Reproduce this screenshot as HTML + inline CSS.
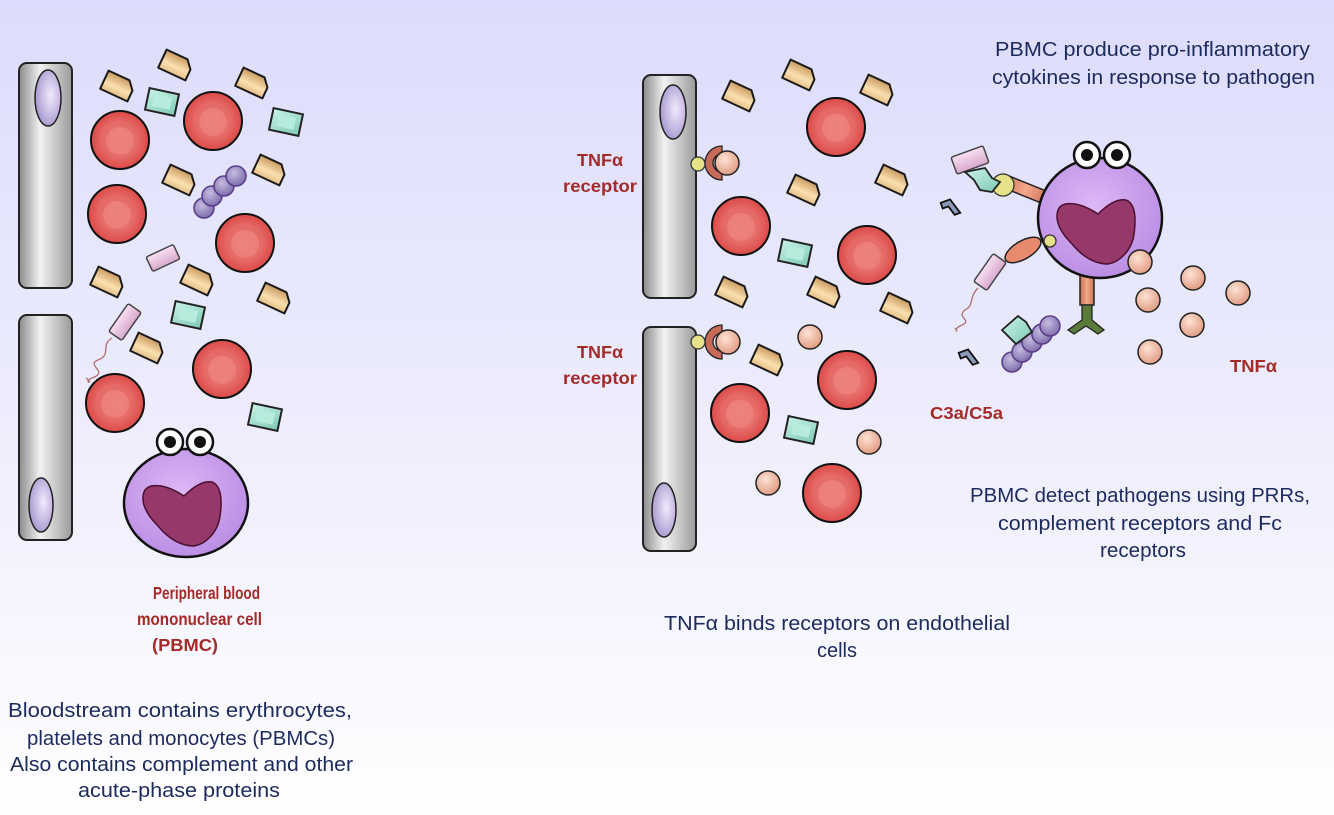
<!DOCTYPE html>
<html><head><meta charset="utf-8"><style>
html,body{margin:0;padding:0;width:1334px;height:815px;overflow:hidden}
svg{display:block}
.t{font-family:"Liberation Sans",sans-serif;fill:#1c2a5c;font-size:20px}
.r{font-family:"Liberation Sans",sans-serif;fill:#a42a28;font-size:17.5px;font-weight:bold}
</style></head><body>
<svg width="1334" height="815" viewBox="0 0 1334 815" xmlns="http://www.w3.org/2000/svg">
<defs>
<linearGradient id="bg" x1="0" y1="0" x2="0" y2="1">
<stop offset="0" stop-color="#dcdcfc"/><stop offset="0.55" stop-color="#eeeefd"/><stop offset="1" stop-color="#ffffff"/></linearGradient>
<linearGradient id="endo" x1="0" y1="0" x2="1" y2="0">
<stop offset="0" stop-color="#8a8a8a"/><stop offset="0.4" stop-color="#f2f2f2"/><stop offset="1" stop-color="#9a9a9a"/></linearGradient>
<radialGradient id="nuc" cx="0.6" cy="0.45" r="0.6"><stop offset="0" stop-color="#f2eafc"/><stop offset="1" stop-color="#a898d0"/></radialGradient>
<radialGradient id="rbc" cx="0.5" cy="0.5" r="0.5"><stop offset="0" stop-color="#f39a94"/><stop offset="1" stop-color="#dc4a48"/></radialGradient>
<linearGradient id="plt" x1="0" y1="0" x2="0" y2="1"><stop offset="0" stop-color="#c99a60"/><stop offset="0.6" stop-color="#fbe0b0"/><stop offset="1" stop-color="#e5be86"/></linearGradient>
<linearGradient id="grn" x1="0" y1="0" x2="1" y2="1"><stop offset="0" stop-color="#c8f3e8"/><stop offset="1" stop-color="#7fc8b4"/></linearGradient>
<radialGradient id="pch" cx="0.4" cy="0.35" r="0.7"><stop offset="0" stop-color="#fde2d4"/><stop offset="1" stop-color="#e0987e"/></radialGradient>
<radialGradient id="pbmc" cx="0.45" cy="0.4" r="0.6"><stop offset="0" stop-color="#ddb8f6"/><stop offset="1" stop-color="#bb8ee4"/></radialGradient>
<radialGradient id="pur" cx="0.4" cy="0.35" r="0.7"><stop offset="0" stop-color="#c6bce0"/><stop offset="1" stop-color="#7a6aa8"/></radialGradient>
<linearGradient id="pnk" x1="0" y1="0" x2="0" y2="1"><stop offset="0" stop-color="#f8e0f2"/><stop offset="1" stop-color="#d8a8cc"/></linearGradient>
<linearGradient id="org" x1="0" y1="0" x2="1" y2="0"><stop offset="0" stop-color="#c87058"/><stop offset="0.5" stop-color="#f5a88c"/><stop offset="1" stop-color="#c87058"/></linearGradient>
<g id="rbcS"><circle r="29" fill="url(#rbc)" stroke="#111" stroke-width="2"/><circle r="18" cx="-2" cy="-2" fill="#e66a66" opacity="0.7"/><circle r="14" cx="0" cy="1" fill="#f08a84" opacity="0.6"/></g>
<g id="pltS"><path d="M-15,-10 L8,-10 L15,-2 L15,10 L-15,10 Z" fill="url(#plt)" stroke="#1a1a1a" stroke-width="2" stroke-linejoin="round"/></g>
<g id="grnS"><rect x="-15" y="-11" width="30" height="22" fill="url(#grn)" stroke="#222" stroke-width="2"/><rect x="-9" y="-6" width="18" height="12" fill="#b5ecdc"/></g>
<g id="pchS"><circle r="12" fill="url(#pch)" stroke="#222" stroke-width="1.5"/></g>
<g id="purS"><circle r="10" fill="url(#pur)" stroke="#5a3a8a" stroke-width="1.5"/></g>
<g id="eyes"><circle cx="-15" cy="0" r="13" fill="#fff" stroke="#111" stroke-width="2.5"/><circle cx="15" cy="0" r="13" fill="#fff" stroke="#111" stroke-width="2.5"/><circle cx="-15" cy="0" r="6" fill="#111"/><circle cx="15" cy="0" r="6" fill="#111"/></g>
<g id="heart"><path d="M-42,-10 C-38,-20 -20,-18 -2,-6 C6,-14 16,-22 26,-20 C36,-16 36,0 34,14 C32,30 20,42 8,44 C-6,44 -18,36 -28,24 C-38,14 -46,2 -42,-10 Z" fill="#96386a" stroke="#4a1030" stroke-width="1.5"/></g>
<g id="c3"><path d="M-7,-8 L3,-8 L8,8 L2,8 L-1,-2 L-7,-2 Z" fill="#8a9ab8" stroke="#111" stroke-width="1.8"/></g>
</defs>
<rect width="1334" height="815" fill="url(#bg)"/>

<rect x="19" y="63" width="53" height="225" rx="8" fill="url(#endo)" stroke="#222" stroke-width="2"/>
<ellipse cx="48" cy="98" rx="13" ry="28" fill="url(#nuc)" stroke="#222" stroke-width="1.5"/>
<rect x="19" y="315" width="53" height="225" rx="8" fill="url(#endo)" stroke="#222" stroke-width="2"/>
<ellipse cx="41" cy="505" rx="12" ry="27" fill="url(#nuc)" stroke="#222" stroke-width="1.5"/>

<use href="#rbcS" x="120" y="140"/><use href="#rbcS" x="213" y="121"/><use href="#rbcS" x="117" y="214"/>
<use href="#rbcS" x="245" y="243"/><use href="#rbcS" x="222" y="369"/><use href="#rbcS" x="115" y="403"/>
<use href="#pltS" transform="translate(118,86) rotate(25)"/><use href="#pltS" transform="translate(176,65) rotate(25)"/>
<use href="#pltS" transform="translate(253,83) rotate(25)"/><use href="#pltS" transform="translate(180,180) rotate(25)"/>
<use href="#pltS" transform="translate(270,170) rotate(25)"/><use href="#pltS" transform="translate(108,282) rotate(25)"/>
<use href="#pltS" transform="translate(198,280) rotate(25)"/><use href="#pltS" transform="translate(275,298) rotate(25)"/>
<use href="#pltS" transform="translate(148,348) rotate(25)"/>
<use href="#grnS" transform="translate(162,102) rotate(12)"/><use href="#grnS" transform="translate(286,122) rotate(12)"/>
<use href="#grnS" transform="translate(188,315) rotate(12)"/><use href="#grnS" transform="translate(265,417) rotate(12)"/>
<use href="#purS" x="204" y="208"/><use href="#purS" x="212" y="196"/><use href="#purS" x="224" y="186"/><use href="#purS" x="236" y="176"/>
<rect x="-15" y="-8" width="30" height="16" rx="2" fill="url(#pnk)" stroke="#444" stroke-width="1.5" transform="translate(163,258) rotate(-25)"/>
<rect x="-17" y="-8" width="34" height="16" rx="2" fill="url(#pnk)" stroke="#444" stroke-width="1.5" transform="translate(125,322) rotate(-55)"/>
<path d="M112,338 C100,345 112,355 98,360 C85,365 110,372 92,378 C82,382 95,385 86,378" fill="none" stroke="#b07070" stroke-width="1.3"/>

<ellipse cx="186" cy="503" rx="62" ry="54" fill="url(#pbmc)" stroke="#111" stroke-width="2.5"/>
<use href="#heart" x="186" y="502"/>
<use href="#eyes" x="185" y="442"/>

<text class="r" x="153" y="599" textLength="107" lengthAdjust="spacingAndGlyphs">Peripheral blood</text>
<text class="r" x="137" y="625" textLength="125" lengthAdjust="spacingAndGlyphs">mononuclear cell</text>
<text class="r" x="152" y="651" textLength="66" lengthAdjust="spacingAndGlyphs">(PBMC)</text>

<text class="t" x="8" y="717" textLength="344" lengthAdjust="spacingAndGlyphs">Bloodstream contains erythrocytes,</text>
<text class="t" x="27" y="745" textLength="308" lengthAdjust="spacingAndGlyphs">platelets and monocytes (PBMCs)</text>
<text class="t" x="10" y="771" textLength="343" lengthAdjust="spacingAndGlyphs">Also contains complement and other</text>
<text class="t" x="78" y="797" textLength="202" lengthAdjust="spacingAndGlyphs">acute-phase proteins</text>

<rect x="643" y="75" width="53" height="223" rx="8" fill="url(#endo)" stroke="#222" stroke-width="2"/>
<ellipse cx="673" cy="112" rx="13" ry="27" fill="url(#nuc)" stroke="#222" stroke-width="1.5"/>
<rect x="643" y="327" width="53" height="224" rx="8" fill="url(#endo)" stroke="#222" stroke-width="2"/>
<ellipse cx="664" cy="510" rx="12" ry="27" fill="url(#nuc)" stroke="#222" stroke-width="1.5"/>
<path d="M722,146 A17,17 0 0,0 722,180 L722,172 A9,9 0 0,1 722,154 Z" fill="#c86a58" stroke="#222" stroke-width="1.3"/>
<circle cx="698" cy="164" r="7" fill="#e6e28a" stroke="#333" stroke-width="1.3"/>
<circle cx="727" cy="163" r="12" fill="url(#pch)" stroke="#222" stroke-width="1.5"/>
<path d="M722,325 A17,17 0 0,0 722,359 L722,351 A9,9 0 0,1 722,333 Z" fill="#c86a58" stroke="#222" stroke-width="1.3"/>
<circle cx="698" cy="342" r="7" fill="#e6e28a" stroke="#333" stroke-width="1.3"/>
<circle cx="728" cy="342" r="12" fill="url(#pch)" stroke="#222" stroke-width="1.5"/>
<text class="r" x="577" y="166" textLength="46" lengthAdjust="spacingAndGlyphs">TNFα</text>
<text class="r" x="563" y="192" textLength="74" lengthAdjust="spacingAndGlyphs">receptor</text>
<text class="r" x="577" y="358" textLength="46" lengthAdjust="spacingAndGlyphs">TNFα</text>
<text class="r" x="563" y="384" textLength="74" lengthAdjust="spacingAndGlyphs">receptor</text>

<use href="#rbcS" x="836" y="127"/><use href="#rbcS" x="741" y="226"/><use href="#rbcS" x="867" y="255"/>
<use href="#rbcS" x="847" y="380"/><use href="#rbcS" x="740" y="413"/><use href="#rbcS" x="832" y="493"/>
<use href="#pltS" transform="translate(740,96) rotate(25)"/><use href="#pltS" transform="translate(800,75) rotate(25)"/>
<use href="#pltS" transform="translate(878,90) rotate(25)"/><use href="#pltS" transform="translate(805,190) rotate(25)"/>
<use href="#pltS" transform="translate(893,180) rotate(25)"/><use href="#pltS" transform="translate(733,292) rotate(25)"/>
<use href="#pltS" transform="translate(825,292) rotate(25)"/><use href="#pltS" transform="translate(898,308) rotate(25)"/>
<use href="#pltS" transform="translate(768,360) rotate(25)"/>
<use href="#grnS" transform="translate(795,253) rotate(12)"/><use href="#grnS" transform="translate(801,430) rotate(12)"/>
<use href="#pchS" x="810" y="337"/><use href="#pchS" x="869" y="442"/><use href="#pchS" x="768" y="483"/>

<text class="t" x="664" y="630" textLength="346" lengthAdjust="spacingAndGlyphs">TNFα binds receptors on endothelial</text>
<text class="t" x="817" y="657" textLength="40" lengthAdjust="spacingAndGlyphs">cells</text>

<text class="t" x="995" y="56" textLength="315" lengthAdjust="spacingAndGlyphs">PBMC produce pro-inflammatory</text>
<text class="t" x="992" y="84" textLength="323" lengthAdjust="spacingAndGlyphs">cytokines in response to pathogen</text>

<rect x="1080" y="265" width="14" height="40" fill="url(#org)" stroke="#222" stroke-width="1.5"/>
<path d="M1082,305 L1082,320 L1068,330 L1074,334 L1086,326 L1098,334 L1104,330 L1092,320 L1092,305 Z" fill="#5a7a3a" stroke="#222" stroke-width="1.3"/>
<rect x="1000" y="183" width="50" height="13" fill="url(#org)" stroke="#222" stroke-width="1.5" transform="rotate(22 1025 190)"/>
<ellipse cx="1023" cy="250" rx="20" ry="9" fill="#e88a6e" stroke="#222" stroke-width="1.5" transform="rotate(-30 1023 250)"/>
<ellipse cx="1100" cy="218" rx="62" ry="60" fill="url(#pbmc)" stroke="#111" stroke-width="2.5"/>
<use href="#heart" x="1100" y="220"/>
<use href="#eyes" x="1102" y="155"/>
<circle cx="1003" cy="185" r="11" fill="#e6e28a" stroke="#333" stroke-width="1.3"/>
<circle cx="1050" cy="241" r="6" fill="#e6e28a" stroke="#333" stroke-width="1.3"/>
<rect x="-17" y="-9" width="34" height="18" rx="2" fill="url(#pnk)" stroke="#444" stroke-width="1.5" transform="translate(970,160) rotate(-20)"/>
<path d="M965,172 L985,168 L992,178 L1000,182 L992,192 L980,190 L974,180 Z" fill="url(#grn)" stroke="#222" stroke-width="1.8"/>
<rect x="-17" y="-8" width="34" height="16" rx="2" fill="url(#pnk)" stroke="#444" stroke-width="1.5" transform="translate(990,272) rotate(-55)"/>
<path d="M978,288 C968,298 975,305 965,310 C955,318 975,320 960,326 C952,330 960,334 955,328" fill="none" stroke="#b07070" stroke-width="1.3"/>
<use href="#purS" x="1012" y="362"/><use href="#purS" x="1022" y="352"/><use href="#purS" x="1032" y="342"/><use href="#purS" x="1042" y="334"/><use href="#purS" x="1050" y="326"/>
<path d="M1002,330 L1018,316 L1026,322 L1032,332 L1016,344 Z" fill="url(#grn)" stroke="#222" stroke-width="1.8"/>
<use href="#c3" transform="translate(950,208) rotate(-20)"/>
<use href="#c3" transform="translate(968,358) rotate(-20)"/>
<use href="#pchS" x="1140" y="262"/><use href="#pchS" x="1193" y="278"/><use href="#pchS" x="1238" y="293"/>
<use href="#pchS" x="1148" y="300"/><use href="#pchS" x="1192" y="325"/><use href="#pchS" x="1150" y="352"/>

<text class="r" x="1230" y="372" textLength="47" lengthAdjust="spacingAndGlyphs">TNFα</text>
<text class="r" x="930" y="419" textLength="73" lengthAdjust="spacingAndGlyphs">C3a/C5a</text>

<text class="t" x="970" y="502" textLength="340" lengthAdjust="spacingAndGlyphs">PBMC detect pathogens using PRRs,</text>
<text class="t" x="998" y="530" textLength="284" lengthAdjust="spacingAndGlyphs">complement receptors and Fc</text>
<text class="t" x="1100" y="557" textLength="86" lengthAdjust="spacingAndGlyphs">receptors</text>
</svg>
</body></html>
